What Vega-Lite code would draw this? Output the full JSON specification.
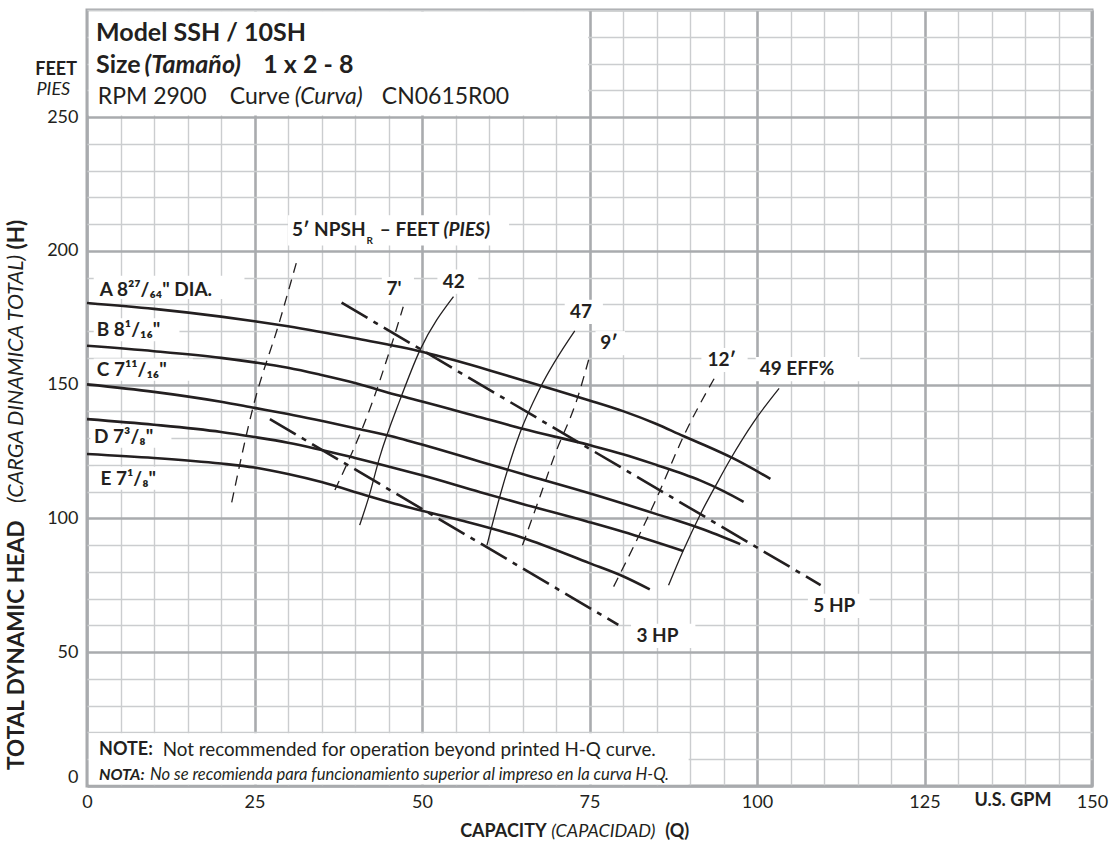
{
  "$schema": "https://vega.github.io/schema/vega-lite/v6.json",
  "width": 1005,
  "height": 776,
  "autosize": {"type": "none"},
  "padding": {"left": 87, "top": 10, "right": 19, "bottom": 60},
  "background": "#ffffff",
  "config": {
    "view": {"stroke": "#a7a9ac", "strokeWidth": 3},
    "font": "Lato",
    "text": {"color": "#231f20", "font": "Lato"}
  },
  "datasets": {
    "curves": [
      {"series": "A", "kind": "hq", "q": 0, "h": 180.5}, {"series": "A", "kind": "hq", "q": 10, "h": 178.3}, {"series": "A", "kind": "hq", "q": 20, "h": 175.4}, {"series": "A", "kind": "hq", "q": 25, "h": 173.7}, {"series": "A", "kind": "hq", "q": 30, "h": 171.8}, {"series": "A", "kind": "hq", "q": 40, "h": 167.3}, {"series": "A", "kind": "hq", "q": 50, "h": 162.3}, {"series": "A", "kind": "hq", "q": 55, "h": 159}, {"series": "A", "kind": "hq", "q": 60, "h": 155.4}, {"series": "A", "kind": "hq", "q": 65, "h": 151.6}, {"series": "A", "kind": "hq", "q": 70, "h": 147.9}, {"series": "A", "kind": "hq", "q": 75, "h": 144.1}, {"series": "A", "kind": "hq", "q": 80, "h": 140.1}, {"series": "A", "kind": "hq", "q": 85, "h": 135.3}, {"series": "A", "kind": "hq", "q": 89, "h": 130.8}, {"series": "A", "kind": "hq", "q": 91.5, "h": 128.1}, {"series": "A", "kind": "hq", "q": 96.4, "h": 122.5}, {"series": "A", "kind": "hq", "q": 102, "h": 114.8},
      {"series": "B", "kind": "hq", "q": 0, "h": 164.5}, {"series": "B", "kind": "hq", "q": 10, "h": 162.5}, {"series": "B", "kind": "hq", "q": 20, "h": 160}, {"series": "B", "kind": "hq", "q": 25, "h": 158.3}, {"series": "B", "kind": "hq", "q": 30, "h": 156.3}, {"series": "B", "kind": "hq", "q": 35, "h": 153.6}, {"series": "B", "kind": "hq", "q": 40, "h": 150.6}, {"series": "B", "kind": "hq", "q": 46.7, "h": 145.8}, {"series": "B", "kind": "hq", "q": 50, "h": 143.7}, {"series": "B", "kind": "hq", "q": 58.7, "h": 137.8}, {"series": "B", "kind": "hq", "q": 65, "h": 133.5}, {"series": "B", "kind": "hq", "q": 75, "h": 127.4}, {"series": "B", "kind": "hq", "q": 80, "h": 124}, {"series": "B", "kind": "hq", "q": 85, "h": 120}, {"series": "B", "kind": "hq", "q": 89, "h": 116.6}, {"series": "B", "kind": "hq", "q": 91.5, "h": 114.2}, {"series": "B", "kind": "hq", "q": 95, "h": 110.2}, {"series": "B", "kind": "hq", "q": 98, "h": 106.2},
      {"series": "C", "kind": "hq", "q": 0, "h": 150.1}, {"series": "C", "kind": "hq", "q": 10, "h": 147.3}, {"series": "C", "kind": "hq", "q": 20, "h": 143.6}, {"series": "C", "kind": "hq", "q": 25, "h": 141.3}, {"series": "C", "kind": "hq", "q": 30, "h": 139}, {"series": "C", "kind": "hq", "q": 40, "h": 133.7}, {"series": "C", "kind": "hq", "q": 46.7, "h": 129.9}, {"series": "C", "kind": "hq", "q": 50, "h": 127.6}, {"series": "C", "kind": "hq", "q": 58.7, "h": 121.2}, {"series": "C", "kind": "hq", "q": 65, "h": 116.6}, {"series": "C", "kind": "hq", "q": 75, "h": 109.4}, {"series": "C", "kind": "hq", "q": 85, "h": 101.6}, {"series": "C", "kind": "hq", "q": 91.5, "h": 96.3}, {"series": "C", "kind": "hq", "q": 97.5, "h": 90.4},
      {"series": "D", "kind": "hq", "q": 0, "h": 137.1}, {"series": "D", "kind": "hq", "q": 10, "h": 135}, {"series": "D", "kind": "hq", "q": 20, "h": 132.3}, {"series": "D", "kind": "hq", "q": 25, "h": 130.4}, {"series": "D", "kind": "hq", "q": 30, "h": 128.3}, {"series": "D", "kind": "hq", "q": 40, "h": 122.6}, {"series": "D", "kind": "hq", "q": 46.7, "h": 118.3}, {"series": "D", "kind": "hq", "q": 50, "h": 116.1}, {"series": "D", "kind": "hq", "q": 58.7, "h": 109.8}, {"series": "D", "kind": "hq", "q": 65, "h": 105.4}, {"series": "D", "kind": "hq", "q": 75, "h": 98.6}, {"series": "D", "kind": "hq", "q": 80, "h": 95}, {"series": "D", "kind": "hq", "q": 89, "h": 87.8},
      {"series": "E", "kind": "hq", "q": 0, "h": 124.1}, {"series": "E", "kind": "hq", "q": 10, "h": 122.6}, {"series": "E", "kind": "hq", "q": 20, "h": 120.5}, {"series": "E", "kind": "hq", "q": 25, "h": 119}, {"series": "E", "kind": "hq", "q": 30, "h": 116.6}, {"series": "E", "kind": "hq", "q": 35, "h": 113.6}, {"series": "E", "kind": "hq", "q": 41.7, "h": 108.6}, {"series": "E", "kind": "hq", "q": 46.7, "h": 105}, {"series": "E", "kind": "hq", "q": 55, "h": 99.8}, {"series": "E", "kind": "hq", "q": 65, "h": 92.8}, {"series": "E", "kind": "hq", "q": 75, "h": 83.3}, {"series": "E", "kind": "hq", "q": 80, "h": 78.4}, {"series": "E", "kind": "hq", "q": 84, "h": 73.5},
      {"series": "42", "kind": "eff", "q": 40.7, "h": 97.5}, {"series": "42", "kind": "eff", "q": 42, "h": 107.5}, {"series": "42", "kind": "eff", "q": 43.7, "h": 123}, {"series": "42", "kind": "eff", "q": 46.7, "h": 144.2}, {"series": "42", "kind": "eff", "q": 49.7, "h": 162.9}, {"series": "42", "kind": "eff", "q": 54.7, "h": 182.9},
      {"series": "47", "kind": "eff", "q": 59.7, "h": 90}, {"series": "47", "kind": "eff", "q": 61.6, "h": 108.1}, {"series": "47", "kind": "eff", "q": 64.6, "h": 131.8}, {"series": "47", "kind": "eff", "q": 67.6, "h": 148.6}, {"series": "47", "kind": "eff", "q": 72.8, "h": 170.1},
      {"series": "49", "kind": "eff", "q": 86.8, "h": 75}, {"series": "49", "kind": "eff", "q": 89, "h": 88}, {"series": "49", "kind": "eff", "q": 91.5, "h": 101.3}, {"series": "49", "kind": "eff", "q": 94, "h": 113}, {"series": "49", "kind": "eff", "q": 96, "h": 122}, {"series": "49", "kind": "eff", "q": 99.5, "h": 136}, {"series": "49", "kind": "eff", "q": 103.3, "h": 148.6},
      {"series": "5ft", "kind": "npsh", "q": 21.6, "h": 106}, {"series": "5ft", "kind": "npsh", "q": 24.8, "h": 141.7}, {"series": "5ft", "kind": "npsh", "q": 28.8, "h": 174.1}, {"series": "5ft", "kind": "npsh", "q": 31.5, "h": 197.8},
      {"series": "7ft", "kind": "npsh", "q": 37, "h": 110.6}, {"series": "7ft", "kind": "npsh", "q": 42.7, "h": 144.2}, {"series": "7ft", "kind": "npsh", "q": 45.2, "h": 162.9}, {"series": "7ft", "kind": "npsh", "q": 47.2, "h": 179.1},
      {"series": "9ft", "kind": "npsh", "q": 65, "h": 90}, {"series": "9ft", "kind": "npsh", "q": 67.6, "h": 108.1}, {"series": "9ft", "kind": "npsh", "q": 69.9, "h": 124.3}, {"series": "9ft", "kind": "npsh", "q": 73.1, "h": 144.2}, {"series": "9ft", "kind": "npsh", "q": 75, "h": 160.4},
      {"series": "12ft", "kind": "npsh", "q": 78.6, "h": 74.5}, {"series": "12ft", "kind": "npsh", "q": 85, "h": 107.5}, {"series": "12ft", "kind": "npsh", "q": 89, "h": 130.5}, {"series": "12ft", "kind": "npsh", "q": 94, "h": 154},
      {"series": "5HP", "kind": "hp", "q": 38, "h": 180.6}, {"series": "5HP", "kind": "hp", "q": 109.5, "h": 75.1},
      {"series": "3HP", "kind": "hp", "q": 27.3, "h": 137.1}, {"series": "3HP", "kind": "hp", "q": 79.3, "h": 60.2}
    ],
    "boxes": [
      {"name": "title", "q": 0.25, "q2": 74.8, "h": 250.6, "h2": 289.4},
      {"name": "note", "q": 0.25, "q2": 89.8, "h": 0.6, "h2": 19.7},
      {"name": "A", "q": 1, "q2": 23.5, "h": 182, "h2": 190.7},
      {"name": "B", "q": 1, "q2": 13.8, "h": 166.2, "h2": 174.8},
      {"name": "C", "q": 1, "q2": 15.8, "h": 151.4, "h2": 159.8},
      {"name": "D", "q": 0.5, "q2": 12.6, "h": 126.4, "h2": 135},
      {"name": "E", "q": 1, "q2": 12.6, "h": 110.7, "h2": 119.3},
      {"name": "npsh", "q": 30, "q2": 63, "h": 202, "h2": 213.3},
      {"name": "7", "q": 44, "q2": 48.8, "h": 181.5, "h2": 190.2},
      {"name": "42", "q": 52.3, "q2": 58.4, "h": 184, "h2": 193},
      {"name": "47", "q": 71.3, "q2": 77, "h": 172.7, "h2": 181.7},
      {"name": "9", "q": 75.9, "q2": 80.3, "h": 161, "h2": 170},
      {"name": "12", "q": 91.7, "q2": 98.6, "h": 154.7, "h2": 163.7},
      {"name": "49", "q": 99.8, "q2": 115.4, "h": 151.3, "h2": 160.3},
      {"name": "5HP", "q": 107.6, "q2": 116.8, "h": 62.8, "h2": 71.8},
      {"name": "3HP", "q": 81.2, "q2": 90.8, "h": 51.6, "h2": 60.6}
    ],
    "texts": [
      {"role": "lbl", "q": 1.9, "h": 185.3, "text": "A 8²⁷/₆₄\" DIA."},
      {"role": "lbl", "q": 1.45, "h": 170.4, "text": "B 8¹/₁₆\""},
      {"role": "lbl", "q": 1.45, "h": 155.6, "text": "C 7¹¹/₁₆\""},
      {"role": "lbl", "q": 1.05, "h": 130.6, "text": "D 7³/₈\""},
      {"role": "lbl", "q": 2, "h": 114.9, "text": "E 7¹/₈\""},
      {"role": "lbl", "q": 44.7, "h": 185.7, "text": "7'"},
      {"role": "lbl", "q": 53.1, "h": 188.5, "text": "42"},
      {"role": "lbl", "q": 72.1, "h": 177.2, "text": "47"},
      {"role": "lbl", "q": 76.6, "h": 165.5, "text": "9′"},
      {"role": "lbl", "q": 92.6, "h": 159.2, "text": "12′"},
      {"role": "lbl", "q": 100.4, "h": 155.8, "text": "49  EFF%"},
      {"role": "lbl", "q": 108.4, "h": 67.3, "text": "5 HP"},
      {"role": "lbl", "q": 82, "h": 56.1, "text": "3 HP"},
      {"role": "lbl", "q": 30.6, "h": 207.8, "text": "5′ NPSH"},
      {"role": "sub", "q": 41.7, "h": 203.6, "text": "R"},
      {"role": "lbl", "q": 43.7, "h": 207.8, "text": "– FEET"},
      {"role": "lbl-bi", "q": 53.2, "h": 207.8, "text": "(PIES)"},
      {"role": "h1", "q": 1.35, "h": 281.5, "text": "Model SSH / 10SH"},
      {"role": "h2", "q": 1.35, "h": 269.5, "text": "Size"},
      {"role": "h2-bi", "q": 8.6, "h": 269.5, "text": "(Tamaño)"},
      {"role": "h2", "q": 26.3, "h": 269.5, "text": "1 x 2 - 8"},
      {"role": "h3", "q": 1.6, "h": 257.5, "text": "RPM 2900"},
      {"role": "h3", "q": 21.3, "h": 257.5, "text": "Curve"},
      {"role": "h3-i", "q": 31, "h": 257.5, "text": "(Curva)"},
      {"role": "h3", "q": 44, "h": 257.5, "text": "CN0615R00"},
      {"role": "ax-b-r", "q": -1.5, "h": 267.6, "text": "FEET"},
      {"role": "ax-i-r", "q": -2.5, "h": 260.2, "text": "PIES"},
      {"role": "ax-b-c", "q": 138.2, "h": -5.6, "text": "U.S. GPM"},
      {"role": "ax-b-r", "q": 68.6, "h": -17.2, "text": "CAPACITY"},
      {"role": "ax-i", "q": 69.3, "h": -17.2, "text": "(CAPACIDAD)"},
      {"role": "ax-b", "q": 86.3, "h": -17.2, "text": "(Q)"},
      {"role": "yt-b", "q": -10.4, "h": 6, "text": "TOTAL DYNAMIC HEAD"},
      {"role": "yt-i", "q": -10.4, "h": 105.8, "text": "(CARGA DINAMICA TOTAL)"},
      {"role": "yt-b", "q": -10.4, "h": 200.5, "text": "(H)"},
      {"role": "note-b", "q": 1.8, "h": 13.5, "text": "NOTE:"},
      {"role": "note-r", "q": 11.3, "h": 13.5, "text": "Not recommended for operation beyond printed H-Q curve."},
      {"role": "note-bi", "q": 1.8, "h": 4.1, "text": "NOTA:"},
      {"role": "note-i", "q": 9.4, "h": 4.1, "text": "No se recomienda para funcionamiento superior al impreso en la curva H-Q."}
    ]
  },
  "encoding": {
    "x": {
      "field": "q", "type": "quantitative",
      "scale": {"domain": [0, 150], "nice": false, "zero": false},
      "axis": {
        "title": null,
        "values": [0, 5, 10, 15, 20, 25, 30, 35, 40, 45, 50, 55, 60, 65, 70, 75, 80, 85, 90, 95, 100, 105, 110, 115, 120, 125, 130, 135, 140, 145, 150],
        "labelExpr": "datum.value % 25 === 0 ? datum.label : ''",
        "grid": true,
        "gridColor": {"condition": {"test": "datum.value % 25 === 0", "value": "#a9abae"}, "value": "#cbcdcf"},
        "gridWidth": {"condition": {"test": "datum.value % 25 === 0", "value": 2.6}, "value": 1.4},
        "ticks": false, "domain": false,
        "labelFontSize": 18, "labelFont": "Lato", "labelColor": "#231f20",
        "labelPadding": 7, "labelOverlap": false, "labelBound": false, "labelFlush": false
      }
    },
    "y": {
      "field": "h", "type": "quantitative",
      "scale": {"domain": [0, 290], "nice": false, "zero": false},
      "axis": {
        "title": null,
        "values": [0, 10, 20, 30, 40, 50, 60, 70, 80, 90, 100, 110, 120, 130, 140, 150, 160, 170, 180, 190, 200, 210, 220, 230, 240, 250, 260, 270, 280, 290],
        "labelExpr": "datum.value % 50 === 0 && datum.value <= 250 ? datum.label : ''",
        "grid": true,
        "gridColor": {"condition": {"test": "datum.value % 50 === 0", "value": "#a9abae"}, "value": "#cbcdcf"},
        "gridWidth": {"condition": {"test": "datum.value % 50 === 0", "value": 2.6}, "value": 1.4},
        "ticks": false, "domain": false,
        "labelFontSize": 18, "labelFont": "Lato", "labelColor": "#231f20",
        "labelPadding": 9, "labelOverlap": false, "labelBound": false, "labelFlush": true
      }
    }
  },
  "layer": [
    {
      "data": {"name": "boxes"},
      "mark": {"type": "rect", "fill": "#ffffff", "stroke": null},
      "encoding": {"x2": {"field": "q2"}, "y2": {"field": "h2"}}
    },
    {
      "data": {"name": "curves"},
      "transform": [{"filter": "datum.kind === 'hq'"}],
      "mark": {"type": "line", "color": "#231f20", "strokeWidth": 2.6, "interpolate": "monotone"},
      "encoding": {"detail": {"field": "series"}}
    },
    {
      "data": {"name": "curves"},
      "transform": [{"filter": "datum.kind === 'eff'"}],
      "mark": {"type": "line", "color": "#231f20", "strokeWidth": 1.3, "interpolate": "monotone"},
      "encoding": {"detail": {"field": "series"}}
    },
    {
      "data": {"name": "curves"},
      "transform": [{"filter": "datum.kind === 'npsh'"}],
      "mark": {"type": "line", "color": "#231f20", "strokeWidth": 1.3, "strokeDash": [10, 7], "interpolate": "monotone"},
      "encoding": {"detail": {"field": "series"}}
    },
    {
      "data": {"name": "curves"},
      "transform": [{"filter": "datum.kind === 'hp'"}],
      "mark": {"type": "line", "color": "#231f20", "strokeWidth": 2.6, "strokeDash": [30, 7, 5, 7]},
      "encoding": {"detail": {"field": "series"}}
    },
    {
      "data": {"name": "texts"},
      "transform": [{"filter": "datum.role === 'lbl'"}],
      "mark": {"type": "text", "align": "left", "baseline": "middle", "fontSize": 19, "fontWeight": "bold"},
      "encoding": {"text": {"field": "text"}}
    },
    {
      "data": {"name": "texts"},
      "transform": [{"filter": "datum.role === 'lbl-bi'"}],
      "mark": {"type": "text", "align": "left", "baseline": "middle", "fontSize": 19, "fontWeight": "bold", "fontStyle": "italic"},
      "encoding": {"text": {"field": "text"}}
    },
    {
      "data": {"name": "texts"},
      "transform": [{"filter": "datum.role === 'sub'"}],
      "mark": {"type": "text", "align": "left", "baseline": "middle", "fontSize": 10, "fontWeight": "bold"},
      "encoding": {"text": {"field": "text"}}
    },
    {
      "data": {"name": "texts"},
      "transform": [{"filter": "datum.role === 'h1'"}],
      "mark": {"type": "text", "align": "left", "baseline": "middle", "fontSize": 25, "fontWeight": "bold"},
      "encoding": {"text": {"field": "text"}}
    },
    {
      "data": {"name": "texts"},
      "transform": [{"filter": "datum.role === 'h2'"}],
      "mark": {"type": "text", "align": "left", "baseline": "middle", "fontSize": 25, "fontWeight": "bold"},
      "encoding": {"text": {"field": "text"}}
    },
    {
      "data": {"name": "texts"},
      "transform": [{"filter": "datum.role === 'h2-bi'"}],
      "mark": {"type": "text", "align": "left", "baseline": "middle", "fontSize": 25, "fontWeight": "bold", "fontStyle": "italic"},
      "encoding": {"text": {"field": "text"}}
    },
    {
      "data": {"name": "texts"},
      "transform": [{"filter": "datum.role === 'h3'"}],
      "mark": {"type": "text", "align": "left", "baseline": "middle", "fontSize": 23},
      "encoding": {"text": {"field": "text"}}
    },
    {
      "data": {"name": "texts"},
      "transform": [{"filter": "datum.role === 'h3-i'"}],
      "mark": {"type": "text", "align": "left", "baseline": "middle", "fontSize": 23, "fontStyle": "italic"},
      "encoding": {"text": {"field": "text"}}
    },
    {
      "data": {"name": "texts"},
      "transform": [{"filter": "datum.role === 'ax-b-r'"}],
      "mark": {"type": "text", "align": "right", "baseline": "middle", "fontSize": 18, "fontWeight": "bold"},
      "encoding": {"text": {"field": "text"}}
    },
    {
      "data": {"name": "texts"},
      "transform": [{"filter": "datum.role === 'ax-i-r'"}],
      "mark": {"type": "text", "align": "right", "baseline": "middle", "fontSize": 18, "fontStyle": "italic"},
      "encoding": {"text": {"field": "text"}}
    },
    {
      "data": {"name": "texts"},
      "transform": [{"filter": "datum.role === 'ax-b-c'"}],
      "mark": {"type": "text", "align": "center", "baseline": "middle", "fontSize": 18, "fontWeight": "bold"},
      "encoding": {"text": {"field": "text"}}
    },
    {
      "data": {"name": "texts"},
      "transform": [{"filter": "datum.role === 'ax-i'"}],
      "mark": {"type": "text", "align": "left", "baseline": "middle", "fontSize": 18, "fontStyle": "italic"},
      "encoding": {"text": {"field": "text"}}
    },
    {
      "data": {"name": "texts"},
      "transform": [{"filter": "datum.role === 'ax-b'"}],
      "mark": {"type": "text", "align": "left", "baseline": "middle", "fontSize": 18, "fontWeight": "bold"},
      "encoding": {"text": {"field": "text"}}
    },
    {
      "data": {"name": "texts"},
      "transform": [{"filter": "datum.role === 'yt-b'"}],
      "mark": {"type": "text", "align": "left", "baseline": "middle", "angle": 270, "fontSize": 22.5, "fontWeight": "bold"},
      "encoding": {"text": {"field": "text"}}
    },
    {
      "data": {"name": "texts"},
      "transform": [{"filter": "datum.role === 'yt-i'"}],
      "mark": {"type": "text", "align": "left", "baseline": "middle", "angle": 270, "fontSize": 21.5, "fontStyle": "italic"},
      "encoding": {"text": {"field": "text"}}
    },
    {
      "data": {"name": "texts"},
      "transform": [{"filter": "datum.role === 'note-b'"}],
      "mark": {"type": "text", "align": "left", "baseline": "middle", "fontSize": 18, "fontWeight": "bold"},
      "encoding": {"text": {"field": "text"}}
    },
    {
      "data": {"name": "texts"},
      "transform": [{"filter": "datum.role === 'note-r'"}],
      "mark": {"type": "text", "align": "left", "baseline": "middle", "fontSize": 18.8},
      "encoding": {"text": {"field": "text"}}
    },
    {
      "data": {"name": "texts"},
      "transform": [{"filter": "datum.role === 'note-bi'"}],
      "mark": {"type": "text", "align": "left", "baseline": "middle", "fontSize": 16, "fontWeight": "bold", "fontStyle": "italic"},
      "encoding": {"text": {"field": "text"}}
    },
    {
      "data": {"name": "texts"},
      "transform": [{"filter": "datum.role === 'note-i'"}],
      "mark": {"type": "text", "align": "left", "baseline": "middle", "fontSize": 16.6, "fontStyle": "italic"},
      "encoding": {"text": {"field": "text"}}
    }
  ]
}
